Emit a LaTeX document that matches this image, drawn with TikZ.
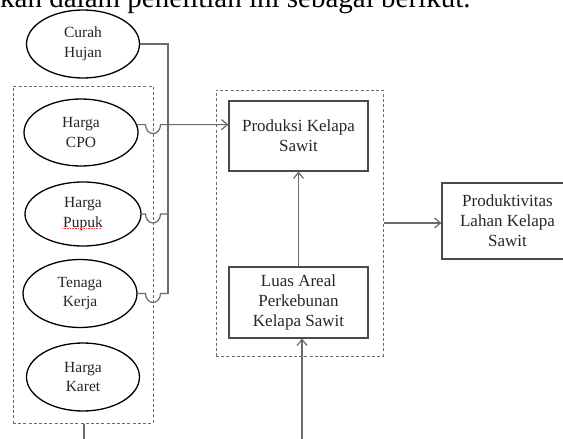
\documentclass[tikz,border=0pt]{standalone}
\usepackage{fontspec}
\setmainfont{Liberation Serif}
\usetikzlibrary{arrows.meta,shapes.geometric}
\definecolor{txt}{HTML}{262626}
\definecolor{ln}{HTML}{6A6A6A}
\definecolor{bx}{HTML}{4A4A4A}
\tikzset{
  oval/.style={ellipse, draw=black, line width=1.3pt, inner sep=0pt, align=center, text=txt,
    font=\fontsize{15.5}{19.5}\selectfont},
  boxn/.style={rectangle, draw=bx, line width=1.1pt, inner sep=0pt, align=center, text=txt,
    font=\fontsize{17}{20}\selectfont},
  dbox/.style={rectangle, draw=ln, line width=1pt, dash pattern=on 3pt off 2.2pt, inner sep=0pt},
  conn/.style={draw=ln, line width=1.2pt},
  arr/.style={conn, -{Straight Barb[length=6pt,width=10pt,line width=1.2pt]}},
}
\begin{document}
\begin{tikzpicture}[x=1pt,y=-1pt]
\useasboundingbox (0,0) rectangle (563,439);
\node[anchor=base west, font=\fontsize{29}{34}\selectfont, text=black, inner sep=0pt] (intro) at (0,7) {kan dalam penelitian ini sebagai berikut.};
% left group
\node[dbox, minimum width=140, minimum height=337] (leftbox) at (83,254.5) {};
\node[oval, minimum width=113, minimum height=68] (curah) at (83,44) {Curah\\Hujan};
\node[oval, minimum width=114, minimum height=67] (cpo) at (81,132.5) {Harga\\CPO};
\node[oval, minimum width=116, minimum height=64] (pupuk) at (83,214) {Harga\\Pupuk};
\node[oval, minimum width=114, minimum height=68] (tenaga) at (80,293.5) {Tenaga\\Kerja};
\node[oval, minimum width=113, minimum height=68] (karet) at (83,377) {Harga\\Karet};
\draw[red!75, line width=0.6pt, dash pattern=on 0.8pt off 0.8pt] ([xshift=-21pt,yshift=-14pt]pupuk.center) -- ([xshift=19pt,yshift=-14pt]pupuk.center);
% right group
\node[dbox, minimum width=167, minimum height=266] (rightbox) at (299.5,223) {};
\node[boxn, minimum width=139, minimum height=70] (prod) at (298.5,136) {Produksi Kelapa\\Sawit};
\node[boxn, minimum width=139, minimum height=71] (luas) at (298.5,302.5) {Luas Areal\\Perkebunan\\Kelapa Sawit};
\node[boxn, minimum width=131, minimum height=76] (prodv) at (507.5,221) {Produktivitas\\Lahan Kelapa\\Sawit};
% helper coordinates
\coordinate (bus) at (168,0);
\coordinate (hx) at (145.5,0);
\coordinate (busb) at (168,293.5);
\coordinate (bot1) at (84,439);
\coordinate (bot2) at (302,439);
% connectors
\draw[conn] (curah.east) -| (busb);
\draw[arr] (cpo.8) -- (cpo.8 -| hx) arc[start angle=180, end angle=0, x radius=7.5, y radius=9] -- (cpo.8 -| prod.west);
\draw[conn] (pupuk.east) -- (pupuk.east -| hx) arc[start angle=180, end angle=0, x radius=7.5, y radius=9] -- (pupuk.east -| bus);
\draw[conn] (tenaga.east) -- (tenaga.east -| hx) arc[start angle=180, end angle=0, x radius=7.5, y radius=9] -- (busb);
\draw[conn] (bot1 |- leftbox.south) -- (bot1);
\draw[arr] (luas.north) -- (prod.south);
\draw[arr] (bot2) -- (bot2 |- luas.south);
\draw[arr] (rightbox.east) -- (rightbox.east -| prodv.west);
\end{tikzpicture}
\end{document}
